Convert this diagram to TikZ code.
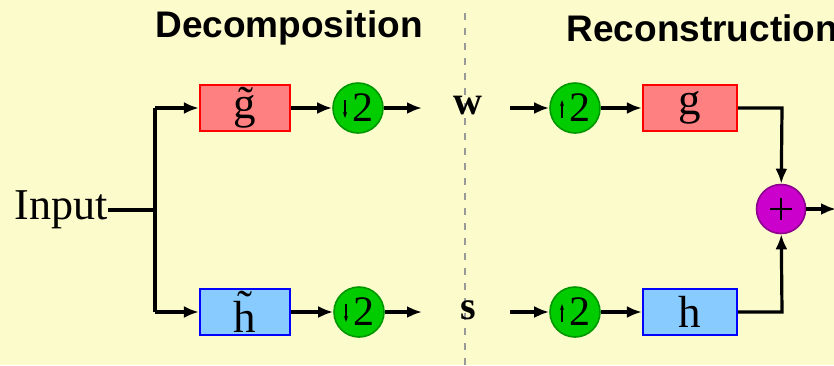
\documentclass[tikz,border=0pt]{standalone}
\usepackage{fontspec}
\setmainfont{Liberation Serif}
\newfontfamily\headfont{Liberation Sans}
\usetikzlibrary{arrows.meta}
\definecolor{bgyellow}{RGB}{252,251,204}
\definecolor{gboxfill}{RGB}{255,128,128}
\definecolor{hboxfill}{RGB}{136,204,255}
\definecolor{ratefill}{RGB}{0,204,0}
\definecolor{rateedge}{RGB}{0,150,0}
\definecolor{sumfill}{RGB}{204,0,204}
\definecolor{sumedge}{RGB}{140,0,140}
\tikzset{
  wire/.style={line width=3.2pt},
  flow/.style={wire,-{Latex[length=15pt,width=12pt]}},
  filt/.style={draw,line width=2.2pt,minimum width=90pt,minimum height=46pt,inner sep=0pt,
    font=\fontsize{45}{45}\selectfont},
  gfilt/.style={filt,draw=red,fill=gboxfill},
  hfilt/.style={filt,draw=blue,fill=hboxfill},
  rate/.style={circle,draw=rateedge,line width=1.6pt,fill=ratefill,minimum size=50pt,inner sep=0pt,
    font=\fontsize{42}{42}\selectfont},
  sumnode/.style={circle,draw=sumedge,line width=1.6pt,fill=sumfill,minimum size=49pt,inner sep=0pt},
  coef/.style={font=\fontsize{40}{40}\selectfont\bfseries},
  head/.style={font=\headfont\bfseries\fontsize{37}{37}\selectfont},
  ratearrow/.style={line width=1.2pt,-{Stealth[length=6pt,width=4pt]}}
}
\begin{document}
\begin{tikzpicture}[x=1pt,y=-1pt]
  \fill[bgyellow] (0,0) rectangle (834,365);
  \useasboundingbox (0,0) rectangle (834,365);

  % section divider and headings
  \coordinate (divtop) at (465,13);
  \coordinate (divbot) at (465,365);
  \draw[gray!80,line width=1.3pt,dash pattern=on 7pt off 8pt] (divtop) -- (divbot);
  \node[head] (dec) at (289,28) {Decomposition};
  \node[head,anchor=west] (rec) at (563,28) {Reconstruction};

  % input and branching
  \node[font=\fontsize{44}{44}\selectfont,anchor=east,inner sep=0pt] (in) at (108,210) {Input};
  \coordinate (split) at (155,210);
  \coordinate (splitT) at (155,108);
  \coordinate (splitB) at (155,312);

  % analysis side
  \node[gfilt] (gt) at (245,108) {\~g};
  \node[hfilt] (ht) at (245,312) {\~h};
  \node[rate] (d1) at (358,108) {\hspace{9pt}2};
  \node[rate] (d2) at (359,312) {\hspace{9pt}2};
  \node[coef] (w) at (468,106) {w};
  \node[coef] (s) at (468,310) {s};
  \coordinate (wL) at (422,108);
  \coordinate (wR) at (510,108);
  \coordinate (sL) at (422,312);
  \coordinate (sR) at (510,312);

  % synthesis side
  \node[rate] (u1) at (575,108) {\hspace{9pt}2};
  \node[rate] (u2) at (575,312) {\hspace{9pt}2};
  \node[gfilt,minimum width=94pt] (g) at (690,108) {g};
  \node[hfilt,minimum width=94pt] (h) at (690,312) {h};
  \node[sumnode] (sum) at (781,209) {};
  \draw[line width=2.2pt] ([xshift=-11pt]sum.center) -- ([xshift=11pt]sum.center)
        ([yshift=-11pt]sum.center) -- ([yshift=11pt]sum.center);
  \coordinate (out) at (836,209);
  \coordinate (gcorner) at (782,108);
  \coordinate (hcorner) at (782,312);

  % rate-change arrows inside the circles
  \foreach \c in {d1,d2}
    \draw[ratearrow] ([xshift=-13pt,yshift=8pt]\c.center) -- ([xshift=-13pt,yshift=-10pt]\c.center);
  \foreach \c in {u1,u2}
    \draw[ratearrow] ([xshift=-13pt,yshift=-10pt]\c.center) -- ([xshift=-13pt,yshift=8pt]\c.center);

  % connectors
  \draw[wire] (in.east) -- (split);
  \draw[wire] (splitT) -- (splitB);
  \draw[flow] (splitT) -- (gt);
  \draw[flow] (splitB) -- (ht);
  \draw[flow] (gt) -- (d1);
  \draw[flow] (ht) -- (d2);
  \draw[flow] (d1) -- (wL);
  \draw[flow] (d2) -- (sL);
  \draw[flow] (wR) -- (u1);
  \draw[flow] (sR) -- (u2);
  \draw[flow] (u1) -- (g);
  \draw[flow] (u2) -- (h);
  \draw[flow] (g.east) -- (gcorner) -- (sum);
  \draw[flow] (h.east) -- (hcorner) -- (sum);
  \draw[flow] (sum) -- (out);
\end{tikzpicture}
\end{document}
